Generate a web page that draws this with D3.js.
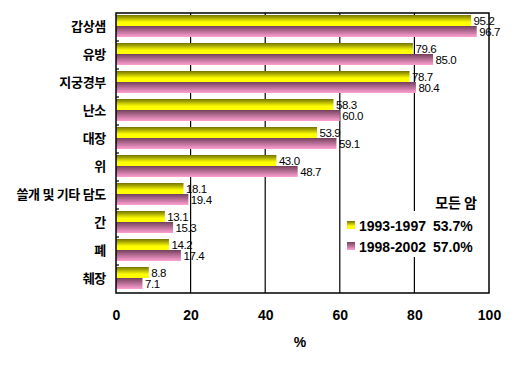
<!DOCTYPE html>
<html><head><meta charset="utf-8">
<script src="https://cdn.jsdelivr.net/npm/d3@7"></script>
<style>
html,body{margin:0;padding:0;background:#fff;}
svg{display:block;}
</style></head>
<body>
<svg id="chart" width="529" height="378"></svg>
<script>
const categories = ["갑상샘","유방","지궁경부","난소","대장","위","쓸개 및 기타 담도","간","폐","췌장"];
const seriesNames = ["1993-1997","1998-2002"];
const seriesTotals = ["53.7%","57.0%"];
const values1993 = [95.2,79.6,78.7,58.3,53.9,43.0,18.1,13.1,14.2,8.8];
const values1998 = [96.7,85.0,80.4,60.0,59.1,48.7,19.4,15.3,17.4,7.1];
const xTicks = [0,20,40,60,80,100];
const legendTitle = "모든 암";
const axisTitle = "%";

const svg = d3.select("#chart");
const W = 529, H = 378;
const m = {left:116, right:40, top:13, bottom:85};
const pw = W - m.left - m.right, ph = H - m.top - m.bottom;

const defs = svg.append("defs");
const g1 = defs.append("linearGradient").attr("id","gy").attr("x1",0).attr("y1",0).attr("x2",0).attr("y2",1);
g1.append("stop").attr("offset","0%").attr("stop-color","#727200");
g1.append("stop").attr("offset","65%").attr("stop-color","#ffff00");
g1.append("stop").attr("offset","100%").attr("stop-color","#ffff00");
const g2 = defs.append("linearGradient").attr("id","gp").attr("x1",0).attr("y1",0).attr("x2",0).attr("y2",1);
g2.append("stop").attr("offset","0%").attr("stop-color","#74405c");
g2.append("stop").attr("offset","100%").attr("stop-color","#ffa0d2");

const x = d3.scaleLinear().domain([0,100]).range([m.left, m.left+pw]);
const y = d3.scaleBand().domain(categories).range([m.top, m.top+ph]);
const ys = d3.scaleBand().domain([0,1]).range([2, y.bandwidth()-4]);

const fills = ["url(#gy)","url(#gp)"];
const series = [values1993, values1998];

// gridlines
svg.append("g").selectAll("line").data(xTicks.slice(1,-1)).join("line")
  .attr("x1",d=>x(d)).attr("x2",d=>x(d)).attr("y1",m.top).attr("y2",m.top+ph)
  .attr("stroke","#000").attr("stroke-width",1.2);

// bars
series.forEach((vals,si)=>{
  svg.append("g").selectAll("rect").data(categories).join("rect")
    .attr("x",x(0))
    .attr("y",(c)=>y(c)+ys(si))
    .attr("width",(c,i)=>x(vals[i])-x(0))
    .attr("height",ys.bandwidth())
    .attr("fill",fills[si]);
});

// legend box (white, covers gridline)
const lg = svg.append("g");
lg.append("rect").attr("x",342).attr("y",211).attr("width",136).attr("height",46).attr("fill","#fff");
lg.append("text").attr("x",477).attr("y",208).attr("text-anchor","end")
  .attr("font-family","'Noto Sans CJK KR', sans-serif").attr("font-weight","bold").attr("font-size",14)
  .text(legendTitle);
seriesNames.forEach((s,i)=>{
  const yy = 221 + i*21;
  lg.append("rect").attr("x",347).attr("y",yy).attr("width",8).attr("height",8).attr("fill",fills[i]);
  lg.append("text").attr("x",359).attr("y",yy+9.5)
    .attr("font-family","Arial, 'Liberation Sans', sans-serif").attr("font-weight","bold").attr("font-size",14)
    .text(s);
  lg.append("text").attr("x",433).attr("y",yy+9.5)
    .attr("font-family","Arial, 'Liberation Sans', sans-serif").attr("font-weight","bold").attr("font-size",14)
    .text(seriesTotals[i]);
});

// value labels
series.forEach((vals,si)=>{
  svg.append("g").selectAll("text").data(categories).join("text")
    .attr("x",(c,i)=>x(vals[i])+2.5)
    .attr("y",(c)=>y(c)+ys(si)+ys.bandwidth()/2)
    .attr("dy","0.36em")
    .attr("font-family","Arial, 'Liberation Sans', sans-serif").attr("font-size",11.5)
    .attr("letter-spacing",-0.4)
    .attr("fill","#000")
    .text((c,i)=>vals[i].toFixed(1));
});

// frame
svg.append("rect").attr("x",m.left).attr("y",m.top).attr("width",pw).attr("height",ph)
  .attr("fill","none").attr("stroke","#000").attr("stroke-width",1.5);

// left ticks at category boundaries (inward)
const bounds = categories.slice(1).map(c=>y(c));
svg.append("g").selectAll("line").data(bounds).join("line")
  .attr("x1",m.left).attr("x2",m.left+3).attr("y1",d=>d).attr("y2",d=>d)
  .attr("stroke","#000").attr("stroke-width",1.2);

// category labels
svg.append("g").selectAll("text").data(categories).join("text")
  .attr("x",106).attr("y",c=>y(c)+y.bandwidth()/2 - 1)
  .attr("dy","0.36em").attr("text-anchor","end")
  .attr("font-family","'Noto Sans CJK KR', sans-serif").attr("font-weight","bold").attr("font-size",13)
  .attr("letter-spacing",-0.3)
  .text(c=>c);

// x axis tick labels
const xa = d3.axisBottom(x).tickValues(xTicks).tickSize(0).tickPadding(0);
const xg = svg.append("g").attr("transform",`translate(0,${m.top+ph})`).call(xa);
xg.select(".domain").remove();
xg.selectAll("text").attr("y",22).attr("dy","0.36em")
  .attr("font-family","Arial, 'Liberation Sans', sans-serif").attr("font-weight","bold").attr("font-size",14).attr("fill","#000");

svg.append("text").attr("x",300).attr("y",342).attr("dy","0.36em").attr("text-anchor","middle")
  .attr("font-family","Arial, 'Liberation Sans', sans-serif").attr("font-weight","bold").attr("font-size",14)
  .text(axisTitle);
</script>
</body></html>
